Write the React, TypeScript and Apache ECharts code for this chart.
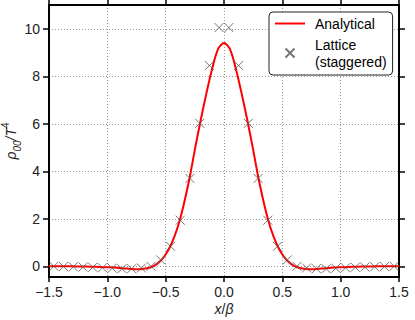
import React, { useEffect, useRef } from "react";
import * as echarts from "echarts";

const curveX = [
  -1.5, -1.45, -1.4, -1.35, -1.3, -1.25, -1.2, -1.15, -1.1, -1.05, -1.0, -0.95, -0.9, -0.85, -0.8, -0.75,
  -0.7, -0.65, -0.6, -0.55, -0.5, -0.45, -0.4, -0.35, -0.3, -0.25, -0.2, -0.15, -0.1, -0.05, 0,
  0.05, 0.1, 0.15, 0.2, 0.25, 0.3, 0.35, 0.4, 0.45, 0.5, 0.55, 0.6, 0.65, 0.7, 0.75, 0.8, 0.85,
  0.9, 0.95, 1.0, 1.05, 1.1, 1.15, 1.2, 1.25, 1.3, 1.35, 1.4, 1.45, 1.5,
];
const curveY = [
  0, 0, 0, 0, 0, -0.005, -0.01, -0.015, -0.02, -0.03, -0.04, -0.05, -0.07, -0.09, -0.11, -0.12,
  -0.11, -0.07, 0.02, 0.2, 0.5, 0.95, 1.6, 2.5, 3.6, 4.9, 6.15, 7.3, 8.35, 9.15, 9.4,
  9.15, 8.35, 7.3, 6.15, 4.9, 3.6, 2.5, 1.6, 0.95, 0.5, 0.2, 0.02, -0.07, -0.11, -0.12, -0.11, -0.09,
  -0.07, -0.05, -0.04, -0.03, -0.02, -0.015, -0.01, -0.005, 0, 0, 0, 0, 0,
];

const latticeX = [
  -1.458, -1.375, -1.292, -1.208, -1.125, -1.042, -0.958, -0.875, -0.792, -0.708, -0.625, -0.542,
  -0.458, -0.375, -0.292, -0.208, -0.125, -0.042, 0.042, 0.125, 0.208, 0.292, 0.375, 0.458,
  0.542, 0.625, 0.708, 0.792, 0.875, 0.958, 1.042, 1.125, 1.208, 1.292, 1.375, 1.458,
];
const latticeY = [
  0, -0.01, -0.02, -0.03, -0.04, -0.06, -0.08, -0.1, -0.1, -0.07, 0.0, 0.27,
  0.84, 1.94, 3.7, 6.02, 8.45, 10.05, 10.05, 8.45, 6.02, 3.7, 1.94, 0.84,
  0.27, 0.0, -0.07, -0.1, -0.1, -0.08, -0.06, -0.04, -0.03, -0.02, -0.01, 0,
];

const yTicks = [0, 2, 4, 6, 8, 10];
const seriesNames = ["Analytical", "Lattice\n(staggered)"];

const FONT = "'Liberation Sans', Arial, sans-serif";

export default function App() {
  const ref = useRef<HTMLDivElement>(null);
  useEffect(() => {
    if (!ref.current) return;
    const chart = echarts.init(ref.current, undefined, { renderer: "svg" });
    const frame = { show: true, onZero: false, lineStyle: { color: "#000", width: 2 } };
    const grid = { show: true, lineStyle: { color: "#999", width: 1, type: [1, 2] } };
    chart.setOption({
      animation: false,
      backgroundColor: "#fff",
      grid: { left: 49, right: 16, top: 5, bottom: 43, containLabel: false, outerBoundsMode: "none" },
      legend: {
        data: [
          { name: seriesNames[0], icon: "path://M0,0L30,0L30,2L0,2Z" },
          { name: seriesNames[1] },
        ],
        orient: "vertical",
        left: 269,
        top: 12,
        padding: [3, 6, 5, 6],
        itemGap: 4,
        itemWidth: 30,
        itemHeight: 9,
        borderColor: "#222",
        borderWidth: 1,
        borderRadius: 4,
        backgroundColor: "#fff",
        formatter: (name: string) =>
          name
            .split("\n")
            .map((s) => `{t|${s}}`)
            .join("\n"),
        textStyle: {
          fontFamily: FONT,
          fontSize: 14,
          color: "#000",
          lineHeight: 17,
          rich: {
            t: { fontFamily: FONT, fontSize: 14, color: "#000", lineHeight: 17, padding: [0, 0, 0, 5] },
          },
        },
      },
      xAxis: [
        {
          type: "value",
          min: -1.5,
          max: 1.5,
          interval: 0.5,
          position: "bottom",
          axisLine: frame,
          axisTick: { show: true, inside: false, length: 5, lineStyle: { color: "#000", width: 1.5 } },
          axisLabel: {
            margin: 8,
            fontFamily: FONT,
            fontSize: 14,
            color: "#222",
            formatter: (v: number) => v.toFixed(1).replace("-", "\u2212"),
          },
          splitLine: grid,
          name: "{i|x}{n|/}{i|\u03b2}",
          nameLocation: "middle",
          nameGap: 25,
          nameMoveOverlap: false,
          nameTextStyle: {
            rich: {
              i: { fontFamily: FONT, fontSize: 14, fontStyle: "italic", color: "#222" },
              n: { fontFamily: FONT, fontSize: 14, color: "#222" },
            },
          },
        },
        {
          type: "value",
          min: -1.5,
          max: 1.5,
          interval: 0.5,
          position: "top",
          axisLine: frame,
          axisTick: { show: true, inside: false, length: 5, lineStyle: { color: "#000", width: 1.5 } },
          axisLabel: { show: false },
          splitLine: { show: false },
        },
      ],
      yAxis: [
        {
          type: "value",
          min: -0.45,
          max: 11,
          position: "left",
          axisLine: frame,
          axisTick: {
            show: true,
            inside: false,
            length: 6,
            customValues: yTicks,
            lineStyle: { color: "#000", width: 1.5 },
          },
          axisLabel: {
            customValues: yTicks,
            margin: 9,
            fontFamily: FONT,
            fontSize: 14,
            color: "#222",
          },
          splitLine: grid,
          name: "{i|\u03c1}{s|00}{i|/T}{p|4}",
          nameLocation: "middle",
          nameGap: 27,
          nameMoveOverlap: false,
          nameTextStyle: {
            rich: {
              i: { fontFamily: FONT, fontSize: 14, fontStyle: "italic", color: "#222", lineHeight: 22 },
              s: { fontFamily: FONT, fontSize: 10, fontStyle: "italic", color: "#222", verticalAlign: "bottom", lineHeight: 22 },
              p: { fontFamily: FONT, fontSize: 10, color: "#222", verticalAlign: "top", lineHeight: 22 },
            },
          },
        },
        {
          type: "value",
          min: -0.45,
          max: 11,
          position: "right",
          axisLine: frame,
          axisTick: {
            show: true,
            inside: false,
            length: 6,
            customValues: yTicks,
            lineStyle: { color: "#000", width: 1.5 },
          },
          axisLabel: { show: false, customValues: yTicks },
          splitLine: { show: false },
        },
      ],
      series: [
        {
          name: seriesNames[0],
          type: "line",
          xAxisIndex: 0,
          yAxisIndex: 0,
          data: curveX.map((x, i) => [x, curveY[i]]),
          smooth: 0.3,
          symbol: "none",
          lineStyle: { color: "#ff0000", width: 2 },
          itemStyle: { color: "#ff0000" },
          z: 3,
        },
        {
          name: seriesNames[1],
          type: "scatter",
          xAxisIndex: 0,
          yAxisIndex: 0,
          data: latticeX.map((x, i) => [x, latticeY[i]]),
          symbol: "path://M0,0L10,10M0,10L10,0",
          symbolSize: 9,
          itemStyle: { color: "none", borderColor: "#555", borderWidth: 1 },
          z: 4,
        },
      ],
    });
    return () => chart.dispose();
  }, []);
  return (
    <div
      ref={ref}
      style={{ position: "absolute", left: 0, top: 0, width: 415, height: 320 }}
    />
  );
}
